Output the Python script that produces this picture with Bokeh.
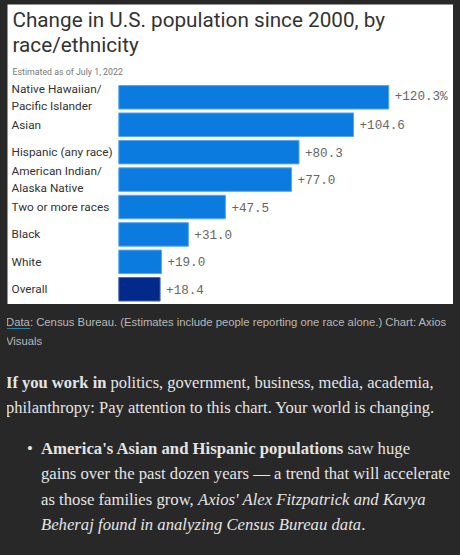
from bokeh.plotting import figure
from bokeh.models import Range1d, Label, Div, ColumnDataSource
from bokeh.layouts import column
from bokeh.core.properties import value
from bokeh.embed import file_html
from bokeh.resources import INLINE

# ---- data ----
categories = ["Native Hawaiian/\nPacific Islander", "Asian", "Hispanic (any race)",
              "American Indian/\nAlaska Native", "Two or more races", "Black", "White", "Overall"]
changes = [120.3, 104.6, 80.3, 77.0, 47.5, 31.0, 19.0, 18.4]
is_overall = [False, False, False, False, False, False, False, True]

title_lines = ["Change in U.S. population since 2000, by", "race/ethnicity"]
subtitle = "Estimated as of July 1, 2022"

BLUE = "#0b7be0"
BLUE_EDGE = "#58a6ee"
NAVY = "#012a8a"
NAVY_EDGE = "#4a66b4"
BG = "#282828"

labels = [("+%.1f" % v) + ("%" if i == 0 else "") for i, v in enumerate(changes)]
ypos = list(range(len(categories)))
source = ColumnDataSource(dict(
    cat=categories, val=changes, y=ypos, lab=labels,
    fill=[NAVY if o else BLUE for o in is_overall],
    edge=[NAVY_EDGE if o else BLUE_EDGE for o in is_overall],
    zero=[0] * len(changes),
))

W, H = 446, 300
p = figure(width=W, height=H, output_backend="svg", toolbar_location=None,
           x_range=Range1d(-49.6, 149.15), y_range=Range1d(7.554, -3.383),
           min_border=0, min_border_left=0, min_border_right=0,
           min_border_top=0, min_border_bottom=0)
p.xaxis.visible = False
p.yaxis.visible = False
p.grid.visible = False
p.outline_line_color = None
p.background_fill_color = "white"
p.border_fill_color = "white"

p.hbar(y="y", left="zero", right="val", height=0.857, source=source,
       fill_color="fill", line_color="edge", line_width=1)

p.text(x="val", y="y", text="lab", source=source, x_offset=6,
       text_baseline="middle", text_align="left",
       text_font=value("Liberation Mono"), text_font_size="12.6px",
       text_color="#666666")

p.text(x=-47.8, y="y", text="cat", source=source,
       text_baseline="middle", text_align="left",
       text_font=value("Roboto"), text_font_size="11.8px",
       text_line_height=1.2, text_color="#333333")

for i, t in enumerate(title_lines):
    p.add_layout(Label(x=5, y=H - 15 - 25 * i, x_units="screen", y_units="screen",
                       text=t, text_font="Roboto", text_font_size="20.7px",
                       text_color="#333333", text_baseline="alphabetic"))
p.add_layout(Label(x=5, y=H - 67, x_units="screen", y_units="screen",
                   text=subtitle, text_font="Roboto", text_font_size="8.8px",
                   text_color="#777777", text_baseline="alphabetic"))

html_text = """
<div style="width:446px;margin-left:-6px;">
<div style="font-family:'Liberation Sans',Arial,sans-serif;font-size:11.3px;line-height:19px;color:#b8b8b8;padding-top:4px;white-space:nowrap;">
<span style="border-bottom:1.5px solid #2a86a8;">Data</span>: Census Bureau. (Estimates include people reporting one race alone.) Chart: Axios<br>Visuals</div>
<div style="font-family:'Liberation Serif',serif;font-size:16.5px;line-height:25px;color:#e4e4e4;margin-top:19px;white-space:nowrap;">
<b>If you work in</b> politics, government, business, media, academia,<br>philanthropy: Pay attention to this chart. Your world is changing.</div>
<div style="position:relative;font-family:'Liberation Serif',serif;font-size:16.7px;line-height:25.3px;color:#e4e4e4;margin-top:16px;padding-left:35px;white-space:nowrap;">
<span style="position:absolute;left:21px;top:0;">&bull;</span>
<b>America's Asian and Hispanic populations</b> saw huge<br>gains over the past dozen years &mdash; a trend that will accelerate<br>as those families grow, <i>Axios' Alex Fitzpatrick and Kavya<br>Beheraj found in analyzing Census Bureau data</i>.</div>
</div>
"""
div = Div(text=html_text, width=446, height=250)

layout = column(p, div, spacing=0)
html = file_html(layout, INLINE)
css = "<style>html,body{margin:0;padding:0;background:%s;} body{margin:4px 7px !important;background:%s !important;}</style>" % (BG, BG)
html = html.replace("</head>", css + "</head>", 1)
open("out.html", "w").write(html)
